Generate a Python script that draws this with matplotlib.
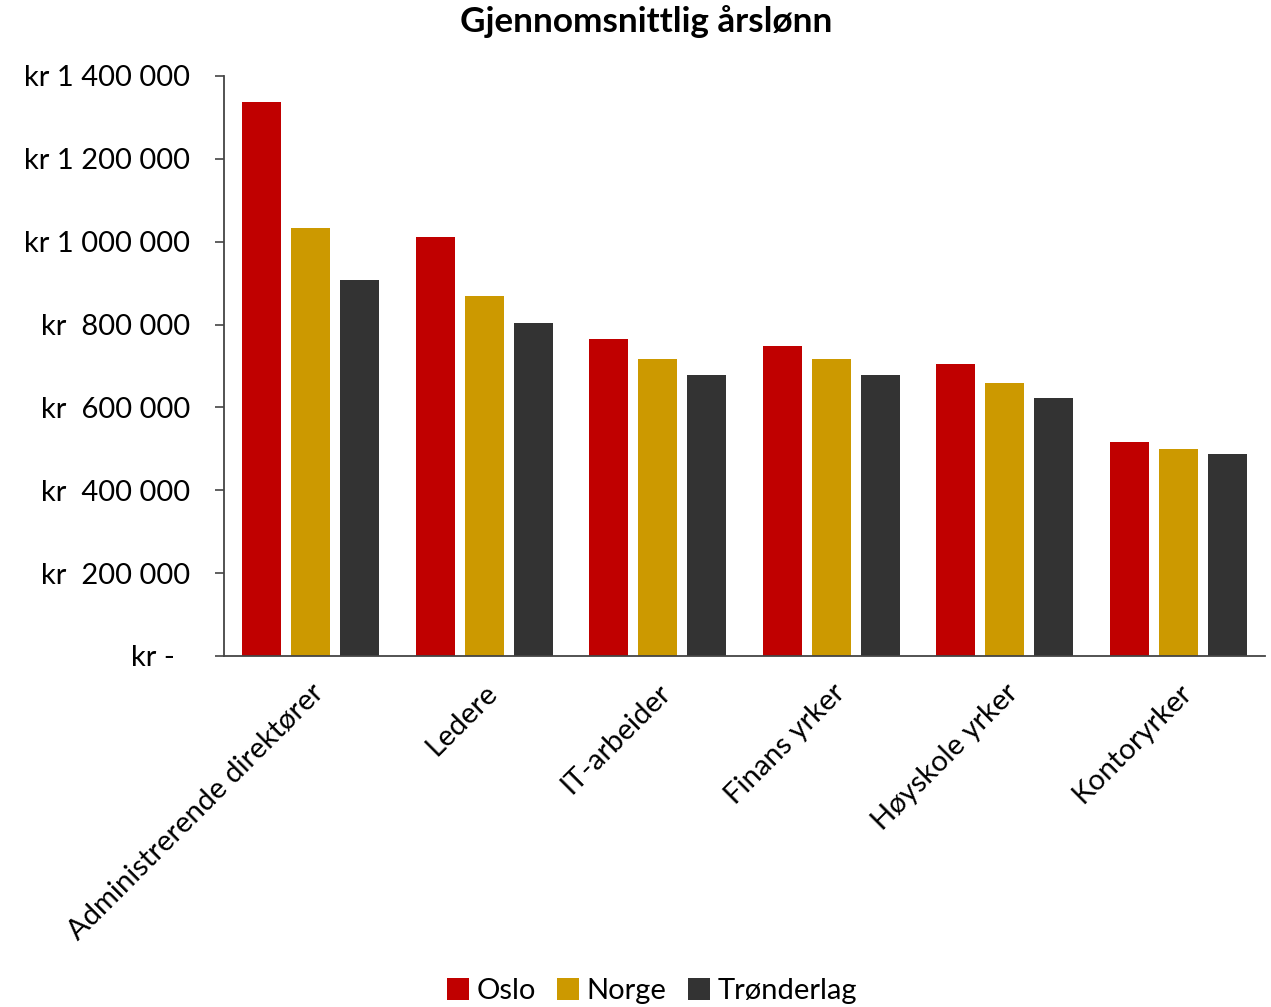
import matplotlib
matplotlib.use("Agg")
import matplotlib.pyplot as plt
import numpy as np

categories = ["Administrerende direktører", "Ledere", "IT-arbeider", "Finans yrker", "Høyskole yrker", "Kontoryrker"]
series_names = ["Oslo", "Norge", "Trønderlag"]
oslo = [1337000, 1011000, 765000, 748000, 705000, 517000]
norge = [1033000, 869000, 717000, 717000, 659000, 500000]
trondelag = [908000, 804000, 678000, 678000, 623000, 488000]
colors = ["#C00000", "#CC9900", "#333333"]
yticks = [0, 200000, 400000, 600000, 800000, 1000000, 1200000, 1400000]
ytick_labels = ["kr -  ", "kr  200 000", "kr  400 000", "kr  600 000", "kr  800 000",
                "kr 1 000 000", "kr 1 200 000", "kr 1 400 000"]

plt.rcParams['font.family'] = ['Lato', 'DejaVu Sans']

fig = plt.figure(figsize=(12.71, 10.07), dpi=100)
ax = fig.add_axes([224/1271, 1-656/1007, (1265-224)/1271, (656-76)/1007])

x = np.arange(len(categories))
w = 0.225
off = 0.283
for i, (vals, name) in enumerate(zip([oslo, norge, trondelag], series_names)):
    ax.bar(x + (i-1)*off, vals, width=w, color=colors[i], label=name)

ax.set_xlim(-0.5, len(categories)-0.5)
ax.set_ylim(0, 1400000)
ax.set_yticks(yticks)
ax.set_yticklabels(ytick_labels, fontsize=21)
ax.set_xticks(x)
ax.set_xticklabels(categories, rotation=45, ha='right', rotation_mode='anchor', fontsize=21)
ax.tick_params(axis='x', length=0, pad=17)
ax.tick_params(axis='y', length=6.5, width=1.2, color='#444444', pad=18)
for s in ['top', 'right']:
    ax.spines[s].set_visible(False)
ax.spines['left'].set_color('#444444')
ax.spines['bottom'].set_color('#444444')
ax.spines['left'].set_linewidth(1.3)
ax.spines['bottom'].set_linewidth(1.3)

fig.suptitle("Gjennomsnittlig årslønn", x=646/1271, y=1-22/1007, va='center',
             fontsize=25.3, fontweight='bold')

fig.legend(loc='center', bbox_to_anchor=(652/1271, 1-991/1007), ncol=3, frameon=False,
           fontsize=21, handlelength=0.75, handleheight=0.75, handletextpad=0.25,
           columnspacing=0.75, borderpad=0.2)

fig.savefig("out.png", dpi=100)
